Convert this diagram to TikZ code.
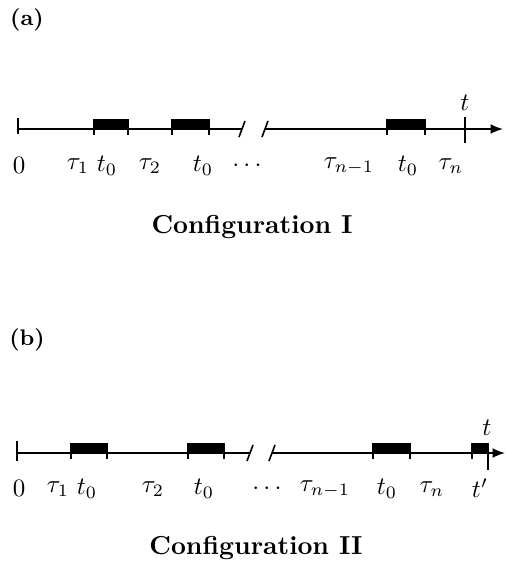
\documentclass[tikz,border=0pt]{standalone}
\usetikzlibrary{arrows.meta}
\begin{document}
\begin{tikzpicture}[x=0.4pt,y=-0.4pt,
  axis/.style={line width=0.65pt},
  tip/.style={-{Latex[length=5pt,width=4pt]}},
  blk/.style={fill=black},
  lbl/.style={inner sep=0pt,font=\normalsize},
  tag/.style={inner sep=0pt,font=\small\bfseries},
  ttl/.style={inner sep=0pt,font=\fontsize{10.4}{12}\selectfont\bfseries}]
\useasboundingbox (0,0) rectangle (506,568);
% ---------- (a)
\node[tag] (pa) at (27,20) {(a)};
\coordinate (a0) at (18,129);
\coordinate (a1) at (242,129);
\coordinate (a2) at (265,129);
\coordinate (a3) at (503,129);
\coordinate (at) at (465,129);
\draw[axis] (a0) -- (a1);
\draw[axis,tip] (a2) -- (a3);
\draw[axis] (a0) ++(0,-11) -- ++(0,16);
\draw[axis] (a1) ++(-3,8) -- ++(6,-16);
\draw[axis] (a2) ++(-3,8) -- ++(6,-16);
\draw[axis] (at) ++(0,-12) -- ++(0,26);
\foreach \l/\r in {94/128,172/209,387/425}{
  \fill[blk] (\l,119) rectangle (\r,129);
  \draw[axis] (\l,119) -- (\l,135);
  \draw[axis] (\r,119) -- (\r,135);
}
\node[lbl] (lt) at (465,103) {$t$};
\node[lbl] (l0) at (19,165) {$0$};
\node[lbl] (l1) at (78,166) {$\tau_1$};
\node[lbl] (l2) at (107,166) {$t_0$};
\node[lbl] (l3) at (150,166) {$\tau_2$};
\node[lbl] (l4) at (203,166) {$t_0$};
\node[lbl] (l5) at (247,166) {$\cdots$};
\node[lbl] (l6) at (349,166) {$\tau_{n-1}$};
\node[lbl] (l7) at (408,166) {$t_0$};
\node[lbl] (l8) at (451,166) {$\tau_n$};
\node[ttl] (ca) at (252,227) {Configuration I};
% ---------- (b)
\node[tag] (pb) at (27,340) {(b)};
\coordinate (b0) at (17,453);
\coordinate (b1) at (250,453);
\coordinate (b2) at (272,453);
\coordinate (b3) at (505,453);
\coordinate (bt) at (488,453);
\draw[axis] (b0) -- (b1);
\draw[axis,tip] (b2) -- (b3);
\draw[axis] (b0) ++(0,-12) -- ++(0,20);
\draw[axis] (b1) ++(-3,8) -- ++(6,-16);
\draw[axis] (b2) ++(-3,8) -- ++(6,-16);
\foreach \l/\r in {71/107,188/224,373/410,472/488}{
  \fill[blk] (\l,443) rectangle (\r,453);
  \draw[axis] (\l,443) -- (\l,459);
  \draw[axis] (\r,443) -- (\r,459);
}
\draw[axis] (bt) -- ++(0,17);
\node[lbl] (mt) at (487,428) {$t$};
\node[lbl] (m0) at (19,488) {$0$};
\node[lbl] (m1) at (58,489) {$\tau_1$};
\node[lbl] (m2) at (87,489) {$t_0$};
\node[lbl] (m3) at (153,489) {$\tau_2$};
\node[lbl] (m4) at (204,489) {$t_0$};
\node[lbl] (m5) at (267,489) {$\cdots$};
\node[lbl] (m6) at (325,489) {$\tau_{n-1}$};
\node[lbl] (m7) at (387,489) {$t_0$};
\node[lbl] (m8) at (432,489) {$\tau_n$};
\node[lbl] (m9) at (480,488) {$t'$};
\node[ttl] (cb) at (256,548) {Configuration II};
\end{tikzpicture}
\end{document}
